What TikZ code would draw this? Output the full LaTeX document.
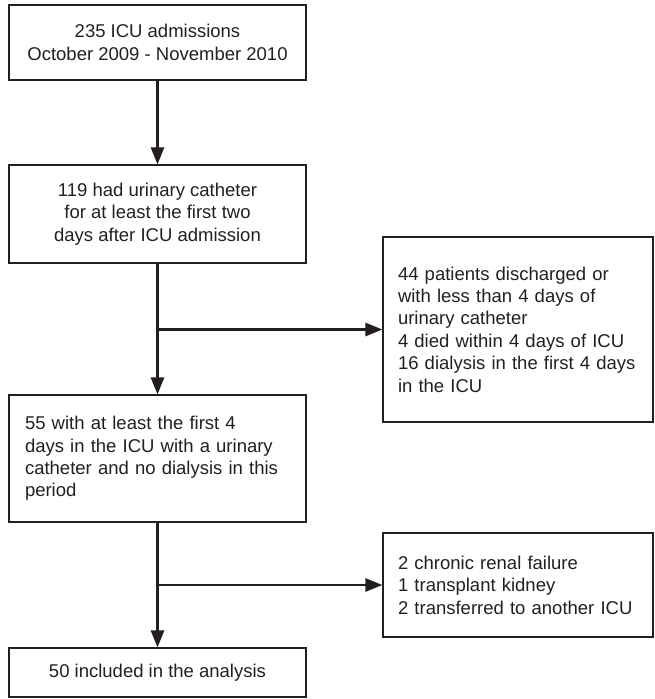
\documentclass[tikz,border=0pt]{standalone}
\usepackage{fontspec}
\setmainfont{Liberation Sans}
\usepackage{xcolor}
\usetikzlibrary{arrows.meta}
\definecolor{inkgray}{HTML}{231F20}

\tikzset{
  flowbox/.style={draw=inkgray, line width=1.1pt, text=inkgray, inner sep=0pt,
    minimum width=297pt, font=\fontsize{18.5}{22.4}\selectfont},
  centerbox/.style={flowbox, align=center},
  leftbox/.style={flowbox, align=left, text width=265pt, inner xsep=16pt},
  exclbox/.style={flowbox, align=left, minimum width=270pt, text width=240pt, inner xsep=15pt},
  flowarrow/.style={draw=inkgray, line width=2.6pt, -{Triangle[length=17pt,width=13pt]}},
  flowline/.style={draw=inkgray, line width=2.6pt}
}

\begin{document}
\begin{tikzpicture}[x=1pt, y=-1pt]
\useasboundingbox (0,0) rectangle (654,699);
%%%%% Main column %%%%%
\node[centerbox, minimum height=75pt] (adm) at (157.5,42.5) {235 ICU admissions\\October 2009 - November 2010};
\node[centerbox, minimum height=98pt] (cath) at (157.5,214) {119 had urinary catheter\\for at least the first two\\days after ICU admission};
\node[leftbox, minimum height=127pt] (four) at (157.5,458.5) {55 with at least the first 4\\days in the ICU with a urinary\\catheter and no dialysis in this\\period};
\node[centerbox, minimum height=49pt] (incl) at (157.5,672.5) {50 included in the analysis};
%%%%% Exclusions %%%%%
\node[exclbox, minimum height=185pt] (excl1) at (518,329.5) {44 patients discharged or\\with less than 4 days of\\urinary catheter\\4 died within 4 days of ICU\\16 dialysis in the first 4 days\\in the ICU};
\node[exclbox, minimum height=104pt] (excl2) at (518,585) {2 chronic renal failure\\1 transplant kidney\\2 transferred to another ICU};
%%%%% Arrows %%%%%
\coordinate (split1) at (cath.south |- excl1.west);
\coordinate (split2) at (four.south |- excl2.west);
\draw[flowarrow] (adm) -- (cath);
\draw[flowarrow] (cath) -- (four);
\draw[flowarrow] (split1) -- (excl1);
\draw[flowarrow] (four) -- (incl);
\draw[flowarrow] (split2) -- (excl2);
\end{tikzpicture}
\end{document}
